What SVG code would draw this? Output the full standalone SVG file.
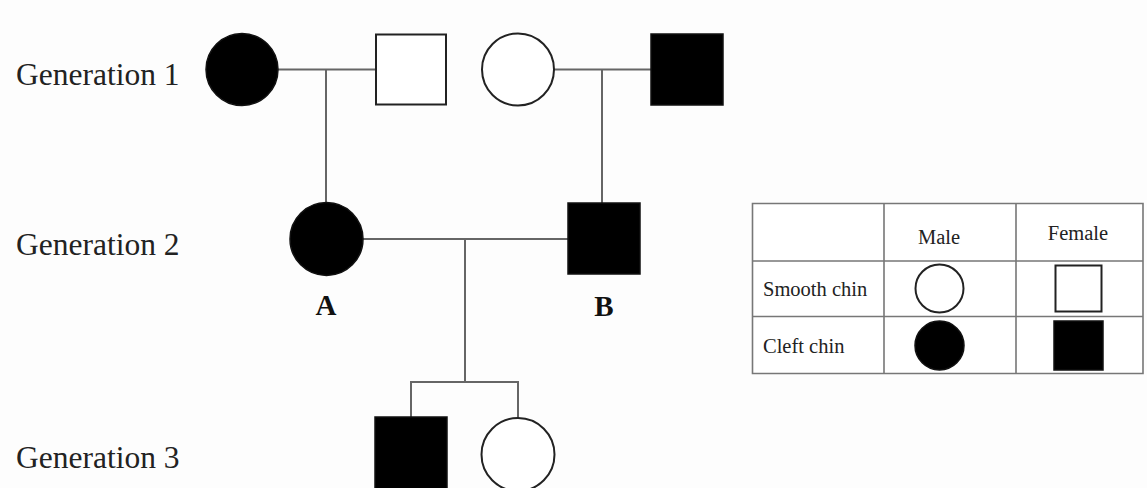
<svg xmlns="http://www.w3.org/2000/svg" width="1147" height="488" viewBox="0 0 1147 488">
  <style>
    .gen { font-family: "Liberation Serif", "Times New Roman", serif; font-size: 31.5px; fill: #222; }
    .tag { font-family: "Liberation Serif", "Times New Roman", serif; font-size: 29px; font-weight: bold; fill: #111; text-anchor: middle; }
    .cell { font-family: "Liberation Serif", "Times New Roman", serif; font-size: 20.5px; fill: #222; }
    .mid { text-anchor: middle; }
    .link { stroke: #666; stroke-width: 2; fill: none; }
    .grid { stroke: #777; stroke-width: 1.6; fill: none; }
    .open { fill: #fff; stroke: #222; stroke-width: 2; }
    .full { fill: #000; stroke: #111; stroke-width: 1.5; }
  </style>

  <rect width="1147" height="488" fill="#fdfdfd"/>

  <!-- generation labels -->
  <text class="gen" x="16" y="85">Generation 1</text>
  <text class="gen" x="16" y="255">Generation 2</text>
  <text class="gen" x="16" y="468">Generation 3</text>

  <!-- connectors -->
  <g id="connectors">
    <path class="link" d="M278 69.5 H376 M326 69.5 V203"/>
    <path class="link" d="M554 69.5 H651 M602 69.5 V203"/>
    <path class="link" d="M362 239 H568 M465 239 V382"/>
    <path class="link" d="M411 417 V382 H518 V418"/>
  </g>

  <!-- generation 1 -->
  <g id="g1-f1"><circle class="full" cx="242" cy="69.5" r="36"/></g>
  <g id="g1-m1"><rect class="open" x="376" y="34.5" width="70" height="70"/></g>
  <g id="g1-f2"><circle class="open" cx="518" cy="69.5" r="36"/></g>
  <g id="g1-m2"><rect class="full" x="651" y="34" width="72" height="71"/></g>

  <!-- generation 2 -->
  <g id="g2-a">
    <circle class="full" cx="326.5" cy="239" r="36.5"/>
    <text class="tag" x="326" y="315">A</text>
  </g>
  <g id="g2-b">
    <rect class="full" x="568" y="203" width="72" height="71"/>
    <text class="tag" x="604" y="316">B</text>
  </g>

  <!-- generation 3 -->
  <g id="g3-son"><rect class="full" x="375" y="417" width="72" height="80"/></g>
  <g id="g3-daughter"><circle class="open" cx="518" cy="454.5" r="36.5"/></g>

  <!-- key table -->
  <g id="legend">
    <rect x="752.5" y="203.5" width="390.5" height="170" fill="#fff" stroke="none"/>
    <path class="grid" d="M752.5 203.5 H1143 V373.5 H752.5 Z M884 203.5 V373.5 M1016 203.5 V373.5 M752.5 261 H1143 M752.5 316.5 H1143"/>
    <text class="cell mid" x="939" y="244">Male</text>
    <text class="cell mid" x="1078" y="240">Female</text>
    <text class="cell" x="763" y="296">Smooth chin</text>
    <text class="cell" x="763" y="353">Cleft chin</text>
    <circle class="open" cx="939.5" cy="288.5" r="24"/>
    <rect class="open" x="1055.5" y="265.5" width="46" height="46"/>
    <circle class="full" cx="939.5" cy="345.5" r="24.5"/>
    <rect class="full" x="1054" y="321" width="49" height="49"/>
  </g>
</svg>
